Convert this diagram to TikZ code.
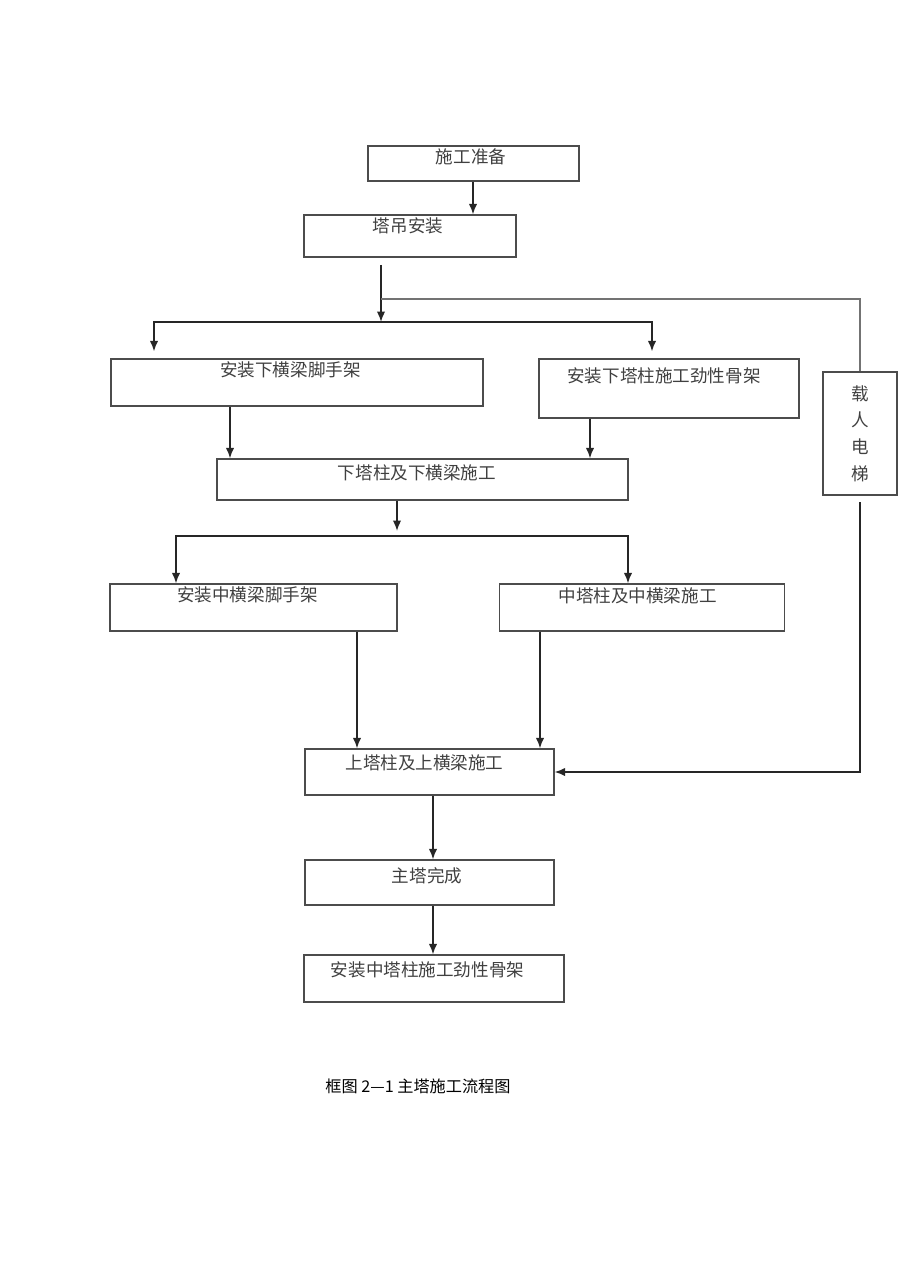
\documentclass[tikz,border=0pt]{standalone}
\usepackage{fontspec}
\newfontfamily\cjk{Noto Sans CJK SC}
\usetikzlibrary{arrows.meta}
\usepackage{xcolor}

\tikzset{
    box/.style={draw=black!70, line width=0.75pt, inner sep=0pt},
    lbl/.style={anchor=center, text=black!75, font=\cjk\fontsize{10}{12}\selectfont},
    arr/.style={-{Latex[length=2.1mm,width=1.7mm]}, line width=0.95pt, black!85},
    ln/.style={line width=0.95pt, black!85},
}

\begin{document}
\begin{tikzpicture}[x=0.02cm, y=-0.02cm]
    \useasboundingbox (0,0) rectangle (920,1280);

    \node[box, minimum width=4.22cm, minimum height=0.70cm, label={[lbl, xshift=-0.05cm, yshift=-0.22cm]north:施工准备}] at (473.5,163.5) (B1) {};
    \node[box, minimum width=4.24cm, minimum height=0.84cm, label={[lbl, xshift=-0.04cm, yshift=-0.24cm]north:塔吊安装}] at (410,236) (B2) {};
    \node[box, minimum width=7.44cm, minimum height=0.94cm, label={[lbl, xshift=-0.13cm, yshift=-0.24cm]north:安装下横梁脚手架}] at (297,382.5) (B3) {};
    \node[box, minimum width=5.20cm, minimum height=1.18cm, label={[lbl, xshift=-0.10cm, yshift=-0.36cm]north:安装下塔柱施工劲性骨架}] at (669,388.5) (B4) {};
    \node[box, minimum width=1.48cm, minimum height=2.46cm, align=center, text=black!75,
          font=\cjk\fontsize{10}{15.2}\selectfont] at (860,433.5) (L) {载\\人\\电\\梯};
    \node[box, minimum width=8.22cm, minimum height=0.82cm, label={[lbl, xshift=-0.11cm, yshift=-0.28cm]north:下塔柱及下横梁施工}] at (422.5,479.5) (B5) {};
    \node[box, minimum width=5.74cm, minimum height=0.94cm, label={[lbl, xshift=-0.12cm, yshift=-0.24cm]north:安装中横梁脚手架}] at (253.5,607.5) (B6) {};
    \node[box, minimum width=5.70cm, minimum height=0.94cm, label={[lbl, xshift=-0.09cm, yshift=-0.24cm]north:中塔柱及中横梁施工}] at (642,607.5) (B7) {};
    \node[box, minimum width=4.98cm, minimum height=0.92cm, label={[lbl, xshift=-0.10cm, yshift=-0.28cm]north:上塔柱及上横梁施工}] at (429.5,772) (B8) {};
    \node[box, minimum width=4.98cm, minimum height=0.90cm, label={[lbl, xshift=-0.05cm, yshift=-0.32cm]north:主塔完成}] at (429.5,882.5) (B9) {};
    \node[box, minimum width=5.20cm, minimum height=0.94cm, label={[lbl, xshift=-0.13cm, yshift=-0.30cm]north:安装中塔柱施工劲性骨架}] at (434,978.5) (B10) {};

    \node[font=\cjk\fontsize{9.2}{11}\selectfont] at (418,1086) (T) {框图 2—1 主塔施工流程图};

    \coordinate (S1) at (381,265);
    \coordinate (K1) at (381,299);
    \coordinate (J1) at (381,322);
    \coordinate (J2) at (397,536);
    \coordinate (S2) at (860,502);

    \draw[arr] (B1.south -| 473,0) -- (B2.north -| 473,0);
    \draw[arr] (S1) -- (J1);
    \draw[line width=0.8pt, black!55] (K1) -| (L.north);
    \draw[arr, shorten >=0.14cm] (J1) -| (B3.north -| 154,0);
    \draw[arr, shorten >=0.14cm] (J1) -| (B4.north -| 652,0);
    \draw[arr] (B3.south -| 230,0) -- (B5.north -| 230,0);
    \draw[arr] (B4.south -| 590,0) -- (B5.north -| 590,0);
    \draw[arr, shorten >=0.1cm] (B5.south -| J2) -- (J2);
    \draw[arr] (J2) -| (B6.north -| 176,0);
    \draw[arr] (J2) -| (B7.north -| 628,0);
    \draw[arr] (B6.south -| 357,0) -- (B8.north -| 357,0);
    \draw[arr] (B7.south -| 540,0) -- (B8.north -| 540,0);
    \draw[arr] (S2) |- (B8.east);
    \draw[arr] (B8.south -| 433,0) -- (B9.north -| 433,0);
    \draw[arr] (B9.south -| 433,0) -- (B10.north -| 433,0);
\end{tikzpicture}
\end{document}
